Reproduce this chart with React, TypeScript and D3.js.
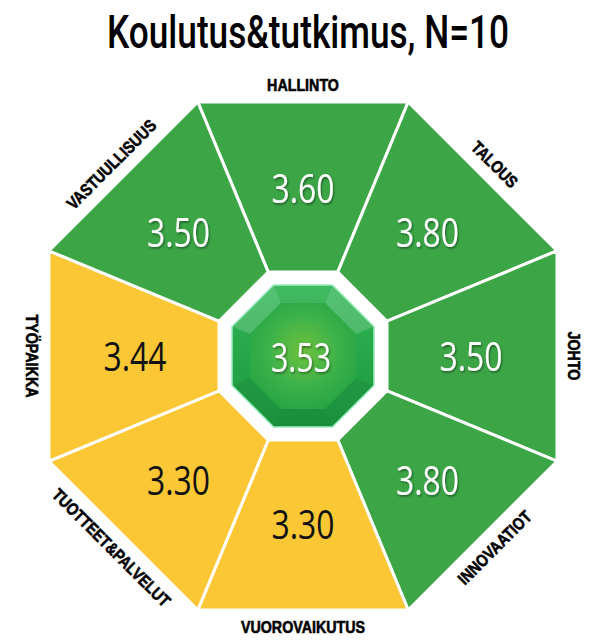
import React from "react";
import * as d3 from "d3";

const TITLE = "Koulutus&tutkimus, N=10";
const CATEGORIES = [
  "HALLINTO",
  "TALOUS",
  "JOHTO",
  "INNOVAATIOT",
  "VUOROVAIKUTUS",
  "TUOTTEET&PALVELUT",
  "TYÖPAIKKA",
  "VASTUULLISUUS",
];
const VALUES = [3.6, 3.8, 3.5, 3.8, 3.3, 3.3, 3.44, 3.5];
const OVERALL = 3.53;
const THRESHOLD = 3.5;

const W = 594;
const H = 640;
const CX = 303;
const CY = 356;
const OUTER_APOTHEM = 254;
const HOLE_APOTHEM = 84;
const CENTER_APOTHEM = 71;
const TABLE_APOTHEM = 53;
const LABEL_R = 271;

const GREEN = "#3ca647";
const YELLOW = "#fcc734";

const rad = (deg: number) => (deg * Math.PI) / 180;
const circum = (apothem: number) => apothem / Math.cos(rad(22.5));
const pt = (r: number, deg: number): [number, number] => [
  CX + r * Math.sin(rad(deg)),
  CY - r * Math.cos(rad(deg)),
];

const line = d3.line<[number, number]>().curve(d3.curveLinearClosed);

const colorScale = d3
  .scaleThreshold<number, string>()
  .domain([THRESHOLD])
  .range([YELLOW, GREEN]);
const textScale = d3
  .scaleThreshold<number, string>()
  .domain([THRESHOLD])
  .range(["#111", "#fff"]);

const angle = d3.scaleLinear().domain([0, CATEGORIES.length]).range([0, 360]);

function segment(i: number, rIn: number, rOut: number) {
  const a = angle(i);
  const half = 180 / CATEGORIES.length;
  return line([
    pt(rOut, a - half),
    pt(rOut, a + half),
    pt(rIn, a + half),
    pt(rIn, a - half),
  ]) as string;
}

function octagon(r: number) {
  const half = 180 / CATEGORIES.length;
  return line(d3.range(CATEGORIES.length).map((i) => pt(r, angle(i) - half))) as string;
}

function labelRotation(a: number) {
  if (a <= 90) return a;
  if (a <= 270) return a - 180;
  return a - 360;
}

const facetShade = [
  ["#ffffff", 0.08],
  ["#ffffff", 0.18],
  ["#000000", 0.0],
  ["#000000", 0.05],
  ["#000000", 0.07],
  ["#000000", 0.05],
  ["#000000", 0.0],
  ["#ffffff", 0.18],
] as const;

export default function App() {
  const rOut = circum(OUTER_APOTHEM);
  const rHole = circum(HOLE_APOTHEM);
  const rCenter = circum(CENTER_APOTHEM);
  const rTable = circum(TABLE_APOTHEM);
  const valueFont = "'Open Sans', 'Noto Sans', sans-serif";
  return (
    <svg
      width={W}
      height={H}
      viewBox={`0 0 ${W} ${H}`}
      style={{ position: "absolute", left: 0, top: 0, background: "#fff" }}
    >
      <defs>
        <filter id="shadow" x="-20%" y="-20%" width="140%" height="140%">
          <feDropShadow dx="1" dy="1.5" stdDeviation="1" floodColor="#000" floodOpacity="0.45" />
        </filter>
        <linearGradient id="centerGrad" x1="0" y1="0" x2="0" y2="1">
          <stop offset="0%" stopColor="#30b454" />
          <stop offset="100%" stopColor="#1c993f" />
        </linearGradient>
        <radialGradient id="tableGrad" cx="50%" cy="45%" r="60%">
          <stop offset="0%" stopColor="#6cc23c" />
          <stop offset="55%" stopColor="#3db24a" />
          <stop offset="100%" stopColor="#25a444" />
        </radialGradient>
      </defs>

      <text
        x={308}
        y={48}
        textAnchor="middle"
        fontFamily="Roboto, 'Liberation Sans', sans-serif"
        fontSize={46}
        fontWeight={500}
        textLength={402}
        lengthAdjust="spacingAndGlyphs"
        fill="#000"
      >
        {TITLE}
      </text>

      {CATEGORIES.map((c, i) => (
        <path
          key={"seg" + c}
          d={segment(i, rHole, rOut)}
          fill={colorScale(VALUES[i])}
          stroke="#fff"
          strokeWidth={3}
          strokeLinejoin="miter"
        />
      ))}

      {CATEGORIES.map((c, i) => {
        const a = angle(i);
        const r = 168 + (i % 2) * 8;
        const [x, y] = pt(r, a);
        const fill = textScale(VALUES[i]);
        return (
          <text
            key={"val" + c}
            x={x}
            y={y + 15}
            textAnchor="middle"
            fontFamily={valueFont}
            fontSize={41}
            textLength={63}
            lengthAdjust="spacingAndGlyphs"
            fill={fill}
            filter={fill === "#fff" ? "url(#shadow)" : undefined}
          >
            {VALUES[i].toFixed(2)}
          </text>
        );
      })}

      {CATEGORIES.map((c, i) => {
        const a = angle(i);
        const [x, y] = pt(LABEL_R, a);
        return (
          <text
            key={"lab" + c}
            transform={`translate(${x},${y}) rotate(${labelRotation(a)}) scale(0.84,1)`}
            textAnchor="middle"
            dominantBaseline="central"
            fontFamily="'Liberation Sans', Arial, sans-serif"
            fontWeight="bold"
            fontSize={17}
            fill="#000"
            stroke="#000"
            strokeWidth={0.6}
          >
            {c}
          </text>
        );
      })}

      <g>
        <path d={octagon(rCenter)} fill="url(#centerGrad)" />
        {CATEGORIES.map((c, i) => (
          <path
            key={"facet" + c}
            d={segment(i, rTable, rCenter)}
            fill={facetShade[i][0]}
            fillOpacity={facetShade[i][1]}
          />
        ))}
        <path d={octagon(rTable)} fill="url(#tableGrad)" />
        <path d={octagon(rCenter)} fill="none" stroke="#9eedc0" strokeWidth={1.5} />
        <text
          x={CX - 2}
          y={CY + 16}
          textAnchor="middle"
          fontFamily={valueFont}
          fontSize={41}
          textLength={60}
          lengthAdjust="spacingAndGlyphs"
          fill="#fff"
          filter="url(#shadow)"
        >
          {OVERALL.toFixed(2)}
        </text>
      </g>
    </svg>
  );
}
